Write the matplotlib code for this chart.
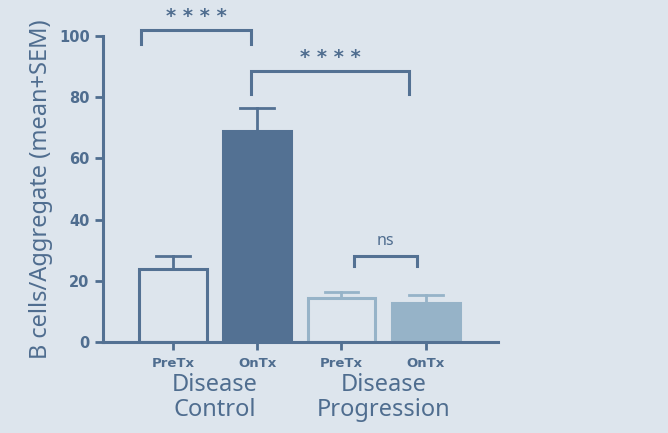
import matplotlib.pyplot as plt
import numpy as np

plt.rcParams['font.family'] = ['DejaVu Sans']

# values
groups = ["PreTx", "OnTx", "PreTx", "OnTx"]
group_names = ["Disease\nControl", "Disease\nProgression"]
means = [24.0, 69.0, 14.3, 12.7]
sem = [4.2, 7.3, 2.0, 2.6]
y_ticks = [0, 20, 40, 60, 80, 100]

bg = "#dde5ed"
dark = "#537193"
light = "#96b3c8"
txt = "#4f6d8f"

fig = plt.figure(figsize=(6.68, 4.33), dpi=100, facecolor=bg)
ax = fig.add_axes([0.154, 0.21, 0.592, 0.707], facecolor=bg)

x = np.arange(len(means))
faces = [bg, dark, bg, light]
edges = [dark, dark, light, light]
w = 0.8
for i in range(len(means)):
    ax.bar(x[i], means[i], width=w, color=faces[i], edgecolor=edges[i], linewidth=2.2, zorder=2)
    # error bar (upper half only)
    ax.plot([x[i], x[i]], [means[i], means[i] + sem[i]], color=edges[i], lw=2.0, zorder=1)
    ax.plot([x[i] - 0.2, x[i] + 0.2], [means[i] + sem[i]] * 2, color=edges[i], lw=2.0, zorder=1)

ax.set_xlim(-0.83, 3.86)
ax.set_ylim(0, 100)
ax.set_yticks(y_ticks)
ax.set_xticks(x)
ax.set_xticklabels(groups, fontsize=9.5, fontweight="bold", color=txt)
ax.tick_params(axis="y", labelsize=10.5, colors=txt, width=2, length=6)
ax.tick_params(axis="x", colors=txt, width=2, length=6, pad=5)
for lab in ax.get_yticklabels():
    lab.set_fontweight("bold")
for s in ["top", "right"]:
    ax.spines[s].set_visible(False)
for s in ["left", "bottom"]:
    ax.spines[s].set_color(dark)
    ax.spines[s].set_linewidth(2.2)

ax.set_ylabel("B cells/Aggregate (mean+SEM)", fontsize=17, color=txt,
              family="Noto Sans")
ax.yaxis.set_label_coords(-0.125, 0.5)

# group names under the ticks
for gx, name in zip([0.5, 2.5], group_names):
    ax.text(gx, -10.2, name, ha="center", va="top", fontsize=17, color=txt,
            clip_on=False, linespacing=1.05, family="Noto Sans")

# significance brackets
def bracket(x1, x2, y, drop, label, ly, size, wt, fam):
    ax.plot([x1, x1, x2, x2], [y - drop, y, y, y - drop], color=dark, lw=2.2,
            clip_on=False, solid_joinstyle="miter")
    ax.text((x1 + x2) / 2, ly, label, ha="center", va="center", fontsize=size,
            color=txt, fontweight=wt, clip_on=False, family=fam)

bracket(-0.38, 0.93, 102, 4.5, "* * * *", 106.5, 14, "bold", "DejaVu Sans")
bracket(0.93, 2.8, 88.5, 7.5, "* * * *", 93, 14, "bold", "DejaVu Sans")
bracket(2.15, 2.9, 28, 3, "ns", 33, 11.5, "normal", "Noto Sans")

fig.savefig("out.png", dpi=100, facecolor=bg)
